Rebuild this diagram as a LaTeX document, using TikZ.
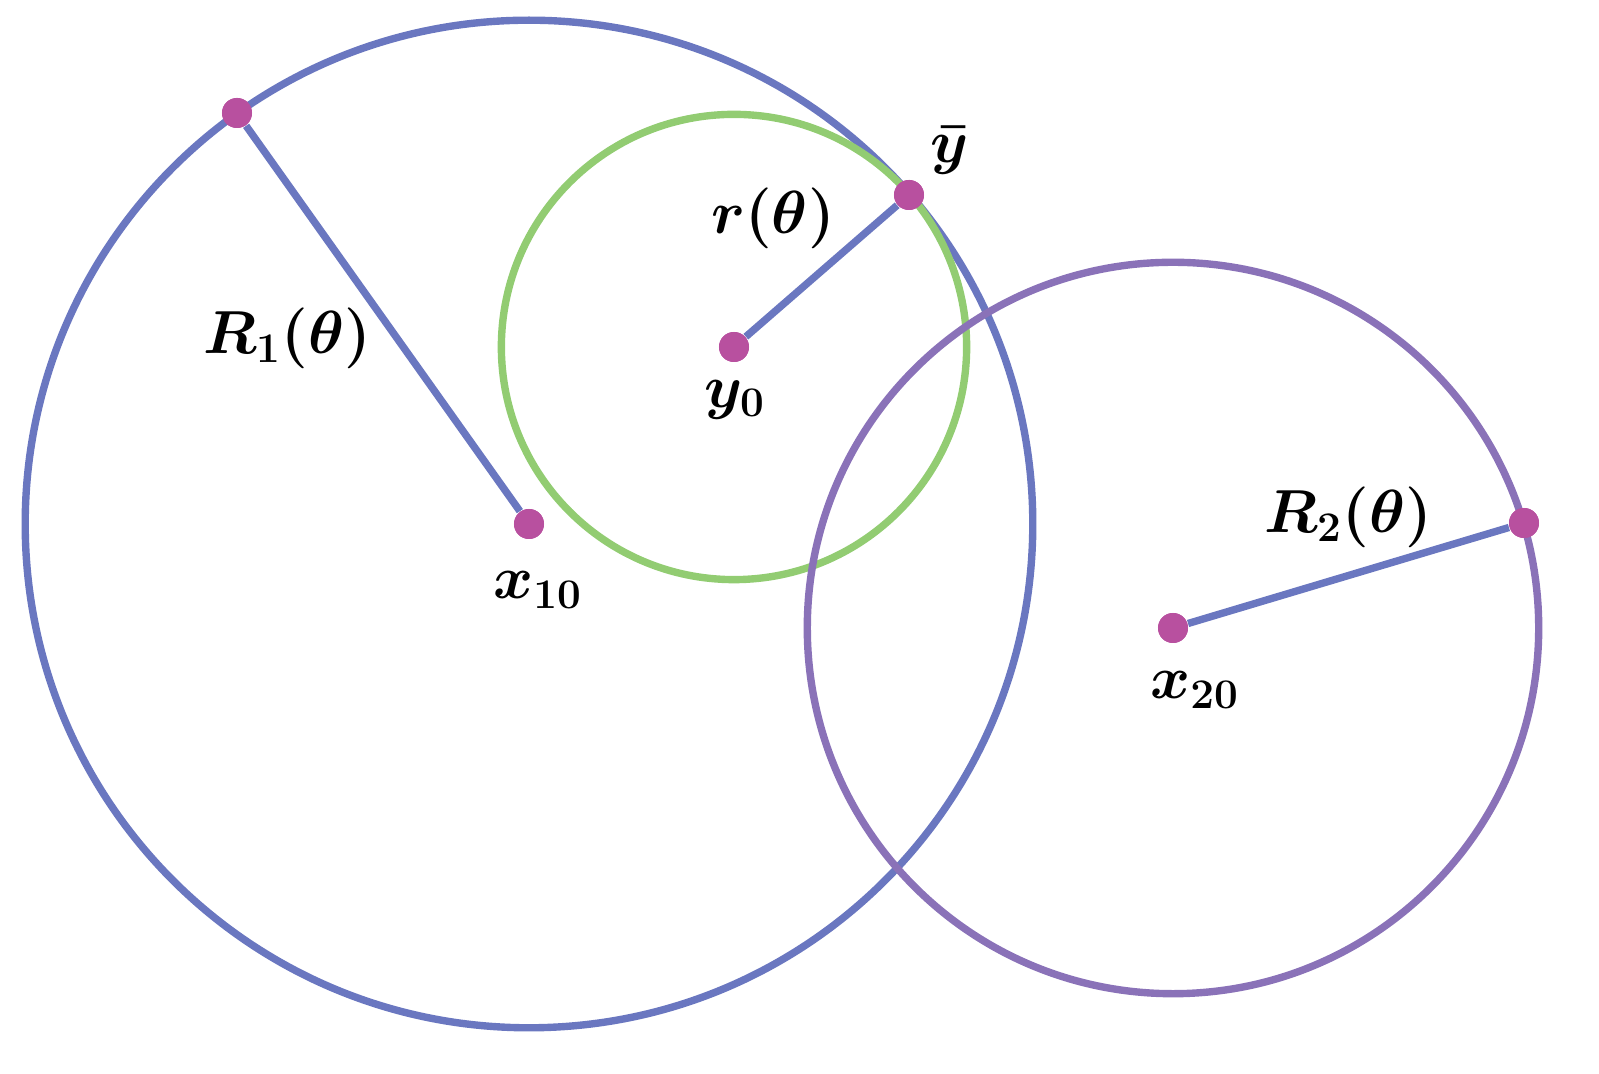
\documentclass[tikz,border=0pt]{standalone}
\usepackage{amsmath,bm}
\begin{document}
\begin{tikzpicture}[x=0.01cm,y=-0.01cm,
  circ/.style={line width=2.1pt},
  rad/.style={line width=2.1pt,draw=cblue},
  dot/.style={circle,fill=cdot,inner sep=0pt,minimum size=0.3cm},
  lab/.style={font=\fontsize{16.5}{20}\selectfont}]
\definecolor{cblue}{HTML}{6A77C0}
\definecolor{cgreen}{HTML}{92CC72}
\definecolor{cpurp}{HTML}{8A72B8}
\definecolor{cdot}{HTML}{B8509F}
\useasboundingbox (0,0) rectangle (1599,1074);
\node[dot] (x10) at (529,524) {};
\node[dot] (y0) at (734,347) {};
\node[dot] (x20) at (1173,628) {};
\draw[circ,cblue] (x10.center) circle[radius=5.035cm];
\draw[circ,cgreen] (y0.center) circle[radius=2.325cm];
\draw[circ,cpurp] (x20.center) circle[radius=3.655cm];
\node[dot] (p1) at (237,113) {};
\node[dot] (yb) at (909,195) {};
\node[dot] (p2) at (1524,523) {};
\draw[rad] (x10) -- (p1);
\draw[rad] (y0) -- (yb);
\draw[rad] (x20) -- (p2);
\node[dot] at (x10) {}; \node[dot] at (y0) {}; \node[dot] at (x20) {};
\node[dot] at (p1) {}; \node[dot] at (yb) {}; \node[dot] at (p2) {};
\node[lab] (l1) at (287,338) {$\bm{R_1(\theta)}$};
\node[lab] (l2) at (773,218) {$\bm{r(\theta)}$};
\node[lab] (l3) at (950,150) {$\bm{\bar y}$};
\node[lab] (l4) at (735,400) {$\bm{y_0}$};
\node[lab] (l5) at (538,590) {$\bm{x_{10}}$};
\node[lab] (l6) at (1348,517) {$\bm{R_2(\theta)}$};
\node[lab] (l7) at (1195,690) {$\bm{x_{20}}$};
\end{tikzpicture}
\end{document}
